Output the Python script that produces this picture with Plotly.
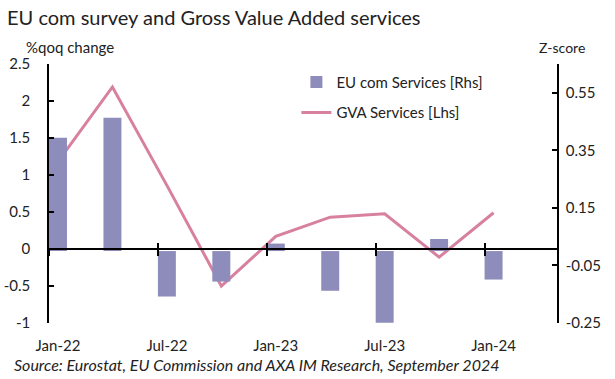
import plotly.graph_objects as go

quarters = ["Jan-22", "Apr-22", "Jul-22", "Oct-22", "Jan-23", "Apr-23", "Jul-23", "Oct-23", "Jan-24"]
eu_com_services = [0.394, 0.463, -0.158, -0.106, 0.026, -0.138, -0.249, 0.042, -0.099]   # Z-score, Rhs
gva_services = [1.18, 2.19, 0.86, -0.50, 0.17, 0.43, 0.475, -0.11, 0.49]                # %qoq, Lhs
tick_labels = ["Jan-22", "Jul-22", "Jan-23", "Jul-23", "Jan-24"]
left_ticks = [-1, -0.5, 0, 0.5, 1, 1.5, 2, 2.5]
right_ticks = [-0.25, -0.05, 0.15, 0.35, 0.55]

FONT = "Lato"
TXT = "#222222"
BAR_C = "#8E8CBB"
LINE_C = "#D8809F"

xpos = list(range(len(quarters)))
label_pos = [xpos[quarters.index(t)] for t in tick_labels]
tick_pos = [p - 0.165 for p in label_pos]
xr = [-0.165, len(quarters) + 0.165]

fig = go.Figure()
fig.add_trace(go.Bar(
    x=xpos, y=eu_com_services, name="EU com Services [Rhs]", width=0.33,
    marker=dict(color=BAR_C, line=dict(width=0)), xaxis="x", yaxis="y2",
    legendgroup="a", hovertext=quarters))
fig.add_trace(go.Scatter(
    x=xpos, y=gva_services, name="GVA Services [Lhs]", mode="lines",
    line=dict(color=LINE_C, width=3), xaxis="x", yaxis="y",
    legendgroup="b", hovertext=quarters))
# helper (empty) traces so the overlay axes are drawn
fig.add_trace(go.Scatter(x=[None], y=[None], xaxis="x2", yaxis="y", showlegend=False, hoverinfo="skip"))
fig.add_trace(go.Scatter(x=[None], y=[None], xaxis="x3", yaxis="y", showlegend=False, hoverinfo="skip"))

zero_frac = (0 - left_ticks[0]) / (left_ticks[-1] - left_ticks[0])

fig.update_layout(
    width=615, height=379,
    margin=dict(l=49, r=58, t=64, b=56),
    paper_bgcolor="white", plot_bgcolor="white",
    font=dict(family=FONT, size=15, color=TXT),
    barmode="overlay",
    xaxis=dict(range=xr, anchor="free", position=zero_frac, showline=True,
               linecolor="black", linewidth=1.5, ticks="outside", ticklen=6,
               tickcolor="black", tickwidth=1.5, tickmode="array", tickvals=tick_pos,
               showticklabels=False, showgrid=False, zeroline=False, automargin=False),
    xaxis3=dict(range=xr, overlaying="x", anchor="free", position=zero_frac,
                showline=False, ticks="inside", ticklen=6, tickcolor="black",
                tickwidth=1.5, tickmode="array", tickvals=tick_pos,
                showticklabels=False, showgrid=False, zeroline=False, automargin=False),
    xaxis2=dict(range=xr, overlaying="x", anchor="y", side="bottom", showline=False,
                ticks="", tickmode="array", tickvals=label_pos, ticktext=tick_labels,
                ticklabelstandoff=12, showgrid=False, zeroline=False, automargin=False,
                tickfont=dict(family=FONT, size=15, color=TXT)),
    yaxis=dict(range=[left_ticks[0], left_ticks[-1]], tickmode="array", tickvals=left_ticks,
               ticktext=[f"{v:g}" for v in left_ticks],
               showline=True, linecolor="black", linewidth=1.5, ticks="inside",
               ticklen=5, tickcolor="black", tickwidth=1.5, showgrid=False,
               zeroline=False, ticklabelstandoff=14, automargin=False,
               tickfont=dict(family=FONT, size=15, color=TXT)),
    yaxis2=dict(range=[-0.25, 0.65], overlaying="y", side="right", anchor="x",
                tickmode="array", tickvals=right_ticks,
                ticktext=[f"{v:.2f}" for v in right_ticks],
                showline=True, linecolor="black", linewidth=1.5, ticks="inside",
                ticklen=5, tickcolor="black", tickwidth=1.5, showgrid=False,
                zeroline=False, ticklabelstandoff=4, automargin=False,
                tickfont=dict(family=FONT, size=15, color=TXT)),
    legend=dict(x=0.487, y=0.993, xanchor="left", yanchor="top",
                bgcolor="rgba(0,0,0,0)", tracegroupgap=8, traceorder="grouped",
                font=dict(family=FONT, size=15, color=TXT)),
    showlegend=True,
)

annos = [
    dict(text="EU com survey and Gross Value Added services", x=-0.0866, y=1.181,
         xanchor="left", yanchor="middle", font=dict(family=FONT, size=20, color=TXT)),
    dict(text="%qoq change", x=0.041, y=1.066, xanchor="center", yanchor="middle",
         font=dict(family=FONT, size=15, color=TXT)),
    dict(text="Z-score", x=1.0098, y=1.062, xanchor="center", yanchor="middle",
         font=dict(family=FONT, size=14, color=TXT)),
    dict(text="<i>Source: Eurostat, EU Commission and AXA IM Research, September 2024</i>",
         x=-0.0728, y=-0.161, xanchor="left", yanchor="middle",
         font=dict(family=FONT, size=16, color=TXT)),
]
for a in annos:
    a.update(xref="paper", yref="paper", showarrow=False)
    fig.add_annotation(**a)

fig.write_html("out.html", config={"displayModeBar": False},
               post_script="document.body.style.margin='0';")
